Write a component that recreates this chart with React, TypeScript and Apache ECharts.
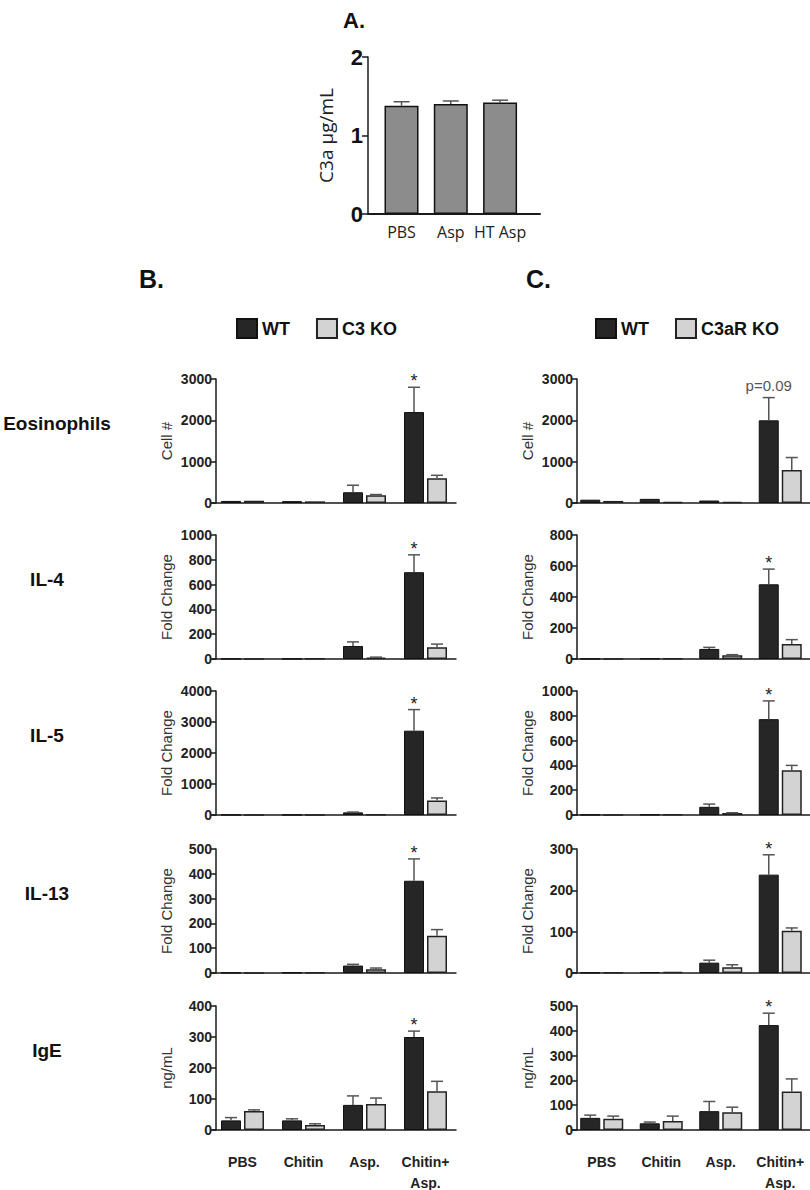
import React, { useEffect, useRef } from "react";
import * as echarts from "echarts";

// ---------- DATA ----------
const aCategories = ["PBS", "Asp", "HT Asp"];
const aValues = [1.38, 1.4, 1.42];
const aErrors = [0.05, 0.04, 0.03];

const categories = ["PBS", "Chitin", "Asp.", "Chitin+\nAsp."];
const rowNames = ["Eosinophils", "IL-4", "IL-5", "IL-13", "IgE"];
const yNames = ["Cell #", "Fold Change", "Fold Change", "Fold Change", "ng/mL"];

const bMax = [3000, 1000, 4000, 500, 400];
const bInterval = [1000, 200, 1000, 100, 100];
const cMax = [3000, 800, 1000, 300, 500];
const cInterval = [1000, 200, 200, 100, 100];

// Column B: WT vs C3 KO  (rows: Eosinophils, IL-4, IL-5, IL-13, IgE)
const bWtMean = [
  [50, 45, 260, 2200],
  [2, 2, 105, 700],
  [5, 5, 85, 2720],
  [1, 2, 30, 372],
  [31, 31, 81, 300],
];
const bWtErr = [
  [0, 0, 170, 600],
  [0, 0, 33, 140],
  [0, 0, 10, 680],
  [0, 0, 5, 88],
  [9, 5, 29, 19],
];
const bKoMean = [
  [55, 40, 190, 600],
  [2, 3, 12, 95],
  [5, 5, 10, 470],
  [1, 2, 15, 150],
  [61, 16, 84, 125],
];
const bKoErr = [
  [0, 0, 15, 70],
  [0, 0, 3, 25],
  [0, 0, 0, 80],
  [0, 0, 5, 25],
  [4, 4, 19, 32],
];

// Column C: WT vs C3aR KO
const cWtMean = [
  [80, 100, 60, 2000],
  [1, 3, 65, 482],
  [2, 3, 66, 773],
  [1, 2, 25, 238],
  [49, 27, 76, 423],
];
const cWtErr = [
  [0, 0, 0, 550],
  [0, 0, 10, 98],
  [0, 0, 22, 147],
  [0, 0, 6, 48],
  [11, 5, 39, 48],
];
const cKoMean = [
  [50, 30, 30, 800],
  [1, 3, 24, 97],
  [2, 5, 16, 360],
  [1, 3, 14, 102],
  [45, 36, 72, 155],
];
const cKoErr = [
  [0, 0, 0, 300],
  [0, 0, 4, 28],
  [0, 0, 2, 40],
  [0, 0, 6, 7],
  [11, 20, 20, 51],
];

const bNotes = ["*", "*", "*", "*", "*"];
const cNotes = ["p=0.09", "*", "*", "*", "*"];

// ---------- STYLE / LAYOUT ----------
const FONT = "'Liberation Sans', Arial, sans-serif";
const AFONT = "'Open Sans', 'Noto Sans', sans-serif";
const WT_COLOR = "#262626";
const KO_COLOR = "#d3d3d3";
const AXIS_COLOR = "#1a1a1a";
const ERR_COLOR = "#555";
const BAR_W = 20;
const GAP = 3;

const rowTops = [379, 535, 691, 849, 1006];
const rowHeight = 124;
const colLeft = [212, 572];
const colWidth = [244, 238];
const colYOffset = [-4, -5];

function errorSeries(
  gridIndex: number,
  means: number[],
  errs: number[],
  shift: number,
  note: string | null,
  capHalf: number
) {
  return {
    type: "custom",
    xAxisIndex: gridIndex,
    yAxisIndex: gridIndex,
    z: 5,
    silent: true,
    data: means.map((m, i) => [i, m, errs[i]]),
    renderItem: (params: any, api: any) => {
      const i = api.value(0);
      const m = api.value(1);
      const e = api.value(2);
      const p0 = api.coord([i, m]);
      const p1 = api.coord([i, m + e]);
      const x = p0[0] + shift;
      const children: any[] = [];
      if (e > 0) {
        children.push({
          type: "line",
          shape: { x1: x, y1: p0[1], x2: x, y2: p1[1] },
          style: { stroke: ERR_COLOR, lineWidth: 1.5 },
        });
        children.push({
          type: "line",
          shape: { x1: x - capHalf, y1: p1[1], x2: x + capHalf, y2: p1[1] },
          style: { stroke: ERR_COLOR, lineWidth: 1.5 },
        });
      }
      if (note && params.dataIndex === means.length - 1) {
        const isStar = note === "*";
        children.push({
          type: "text",
          style: {
            text: note,
            x: x,
            y: p1[1] - (isStar ? 6 : 12),
            textAlign: "center",
            textVerticalAlign: "middle",
            font: isStar ? `18px ${FONT}` : `15px ${FONT}`,
            fill: isStar ? "#222" : "#555",
          },
        });
      }
      return { type: "group", children };
    },
  };
}

function buildOption() {
  const grid: any[] = [];
  const xAxis: any[] = [];
  const yAxis: any[] = [];
  const series: any[] = [];
  const graphic: any[] = [];

  // ----- Panel A -----
  grid.push({ left: 368, top: 57, width: 172, height: 157, outerBoundsMode: "none" });
  xAxis.push({
    type: "value",
    gridIndex: 0,
    min: -0.68,
    max: 2.81,
    axisLine: { show: true, onZero: false, lineStyle: { color: AXIS_COLOR, width: 2 } },
    axisTick: { show: false },
    splitLine: { show: false },
    axisLabel: {
      customValues: [0, 1, 2],
      formatter: (v: number) => {
        const k = Math.round(v);
        return Math.abs(v - k) < 1e-6 && aCategories[k] ? aCategories[k] : "";
      },
      fontFamily: AFONT,
      fontSize: 16,
      color: "#222",
      margin: 10,
    },
  });
  yAxis.push({
    type: "value",
    gridIndex: 0,
    min: 0,
    max: 2,
    interval: 1,
    axisLine: { show: true, onZero: false, lineStyle: { color: AXIS_COLOR, width: 1.5 } },
    axisTick: { show: true, length: 6, lineStyle: { color: AXIS_COLOR, width: 1.5 } },
    splitLine: { show: false },
    axisLabel: { fontFamily: FONT, fontWeight: "bold", fontSize: 22, color: "#111", margin: 5 },
    name: "C3a μg/mL",
    nameLocation: "middle",
    nameGap: 33,
    nameTextStyle: { fontFamily: AFONT, fontSize: 19, color: "#222" },
  });
  series.push({
    type: "bar",
    name: "C3a",
    xAxisIndex: 0,
    yAxisIndex: 0,
    barWidth: 34,
    data: aValues.map((v, i) => [i, v]),
    itemStyle: { color: "#8c8c8c", borderColor: "#111", borderWidth: 1.5 },
  });
  series.push(errorSeries(0, aValues, aErrors, 0, null, 8));

  // ----- Panels B & C -----
  const cols = [
    { wt: bWtMean, wtE: bWtErr, ko: bKoMean, koE: bKoErr, max: bMax, iv: bInterval, notes: bNotes, koName: "C3 KO" },
    { wt: cWtMean, wtE: cWtErr, ko: cKoMean, koE: cKoErr, max: cMax, iv: cInterval, notes: cNotes, koName: "C3aR KO" },
  ];
  cols.forEach((col, c) => {
    rowNames.forEach((_, r) => {
      const gi = grid.length;
      const last = r === rowNames.length - 1;
      grid.push({
        left: colLeft[c],
        top: rowTops[r],
        width: colWidth[c],
        height: rowHeight,
        outerBoundsMode: "none",
      });
      xAxis.push({
        type: "category",
        gridIndex: gi,
        data: categories,
        axisLine: { show: true, onZero: false, lineStyle: { color: AXIS_COLOR, width: 1.5 } },
        axisTick: { show: false },
        splitLine: { show: false },
        axisLabel: {
          show: last,
          interval: 0,
          fontFamily: FONT,
          fontWeight: "bold",
          fontSize: 14,
          lineHeight: 21,
          color: "#222",
          margin: 21,
        },
      });
      yAxis.push({
        type: "value",
        gridIndex: gi,
        min: 0,
        max: col.max[r],
        interval: col.iv[r],
        offset: colYOffset[c],
        axisLine: { show: true, onZero: false, lineStyle: { color: AXIS_COLOR, width: 1.5 } },
        axisTick: { show: true, length: 5, lineStyle: { color: AXIS_COLOR, width: 1.5 } },
        splitLine: { show: false },
        axisLabel: {
          fontFamily: FONT,
          fontWeight: "bold",
          fontSize: 14,
          color: "#222",
          margin: 4,
          formatter: (v: number) => String(v),
        },
        name: yNames[r],
        nameLocation: "middle",
        nameGap: 42,
        nameTextStyle: { fontFamily: FONT, fontSize: 15, color: "#333" },
      });
      series.push({
        type: "bar",
        name: "WT",
        xAxisIndex: gi,
        yAxisIndex: gi,
        barWidth: BAR_W,
        barGap: `${(GAP / BAR_W) * 100}%`,
        data: col.wt[r],
        itemStyle: { color: WT_COLOR, borderColor: "#111", borderWidth: 1 },
      });
      series.push({
        type: "bar",
        name: col.koName,
        xAxisIndex: gi,
        yAxisIndex: gi,
        barWidth: BAR_W,
        barGap: `${(GAP / BAR_W) * 100}%`,
        data: col.ko[r],
        itemStyle: { color: KO_COLOR, borderColor: "#222", borderWidth: 1.5 },
      });
      const sh = (BAR_W + GAP) / 2;
      series.push(errorSeries(gi, col.wt[r], col.wtE[r], -sh, col.notes[r], 6));
      series.push(errorSeries(gi, col.ko[r], col.koE[r], sh, null, 6));
    });
  });

  // ----- Texts -----
  graphic.push({ type: "text", left: 343, top: 9, style: { text: "A.", font: `bold 22px ${FONT}`, fill: "#111" } });
  graphic.push({ type: "text", left: 139, top: 266, style: { text: "B.", font: `bold 25px ${FONT}`, fill: "#111" } });
  graphic.push({ type: "text", left: 526, top: 266, style: { text: "C.", font: `bold 25px ${FONT}`, fill: "#111" } });
  rowNames.forEach((name, r) => {
    graphic.push({
      type: "text",
      x: r === 0 ? 57 : 47,
      y: rowTops[r] + 44,
      style: {
        text: name,
        textAlign: "center",
        textVerticalAlign: "middle",
        font: `bold 19px ${FONT}`,
        fill: "#111",
      },
    });
  });

  const legendBase = {
    orient: "horizontal",
    top: 313,
    icon: "rect",
    itemWidth: 20,
    itemHeight: 19,
    itemGap: 26,
    selectedMode: false,
    textStyle: { fontFamily: FONT, fontWeight: "bold", fontSize: 18, color: "#111" },
  };
  const legend = [
    { ...legendBase, left: 231, data: ["WT", "C3 KO"] },
    { ...legendBase, left: 590, data: ["WT", "C3aR KO"] },
  ];

  return {
    animation: false,
    backgroundColor: "#ffffff",
    grid,
    xAxis,
    yAxis,
    series,
    legend,
    graphic,
  };
}

export default function App() {
  const ref = useRef<HTMLDivElement>(null);
  useEffect(() => {
    if (!ref.current) return;
    const chart = echarts.init(ref.current, null, { renderer: "svg" });
    chart.setOption(buildOption() as any);
    return () => chart.dispose();
  }, []);
  return (
    <div
      ref={ref}
      style={{ position: "absolute", left: 0, top: 0, width: 810, height: 1190, background: "#fff" }}
    />
  );
}
